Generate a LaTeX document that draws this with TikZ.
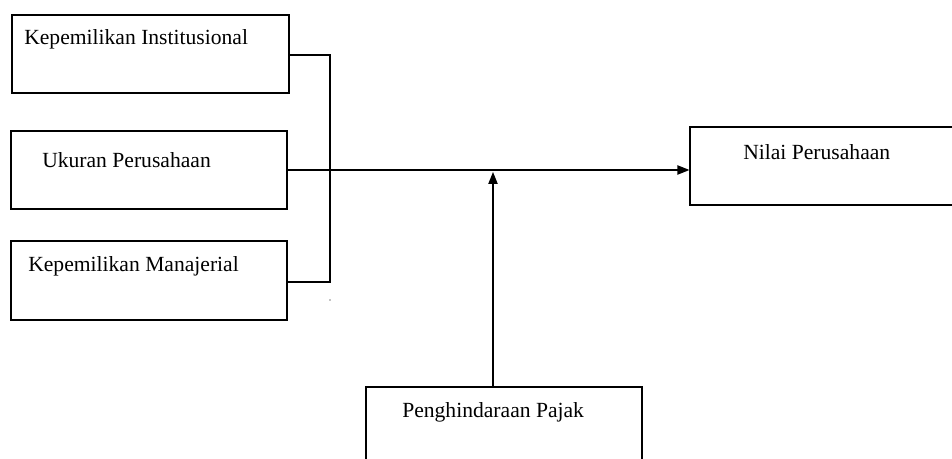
\documentclass[tikz,border=0pt]{standalone}
\usepackage{fontspec}
\setmainfont{Liberation Serif}
\usetikzlibrary{arrows.meta}
\begin{document}
\begin{tikzpicture}[x=0.75pt,y=-0.75pt,
  box/.style={draw,line width=0.9pt,rectangle,inner sep=0pt},
  lbl/.style={anchor=west,inner sep=0pt,font=\fontsize{16.2}{19}\selectfont},
  conn/.style={line width=0.9pt},
  arr/.style={line width=0.9pt,-{Triangle[length=9pt,width=7pt]}}]
\useasboundingbox (0,0) rectangle (952,459);
\clip (0,0) rectangle (952,459);
% boxes
\node[box,minimum width=277*0.75pt,minimum height=78*0.75pt] (inst) at (150.5,54) {};
\node[box,minimum width=276*0.75pt,minimum height=78*0.75pt] (ukur) at (149,170) {};
\node[box,minimum width=276*0.75pt,minimum height=79*0.75pt] (mana) at (149,280.5) {};
\node[box,minimum width=300*0.75pt,minimum height=78*0.75pt] (nilai) at (840,166) {};
\node[box,minimum width=276*0.75pt,minimum height=120*0.75pt] (pajak) at (504,447) {};
% labels
\node[lbl] (tinst) at (24,39) {Kepemilikan Institusional};
\node[lbl] (tukur) at (42,160) {Ukuran Perusahaan};
\node[lbl] (tmana) at (28,266) {Kepemilikan Manajerial};
\node[lbl] (tnilai) at (743,152) {Nilai Perusahaan};
\node[lbl] (tpajak) at (402,412) {Penghindaraan Pajak};
% connectors
\coordinate (jt) at (330,55);
\coordinate (jb) at (330,282);
\coordinate (tip) at (493,172);
\draw[conn] (inst.east |- jt) -- (jt) -- (jb) -- (mana.east |- jb);
\draw[arr] (ukur.east) -- (nilai.west |- ukur.east);
\draw[arr] (pajak.north -| tip) -- (tip);
\fill (330,300) circle (0.7);
\end{tikzpicture}
\end{document}
